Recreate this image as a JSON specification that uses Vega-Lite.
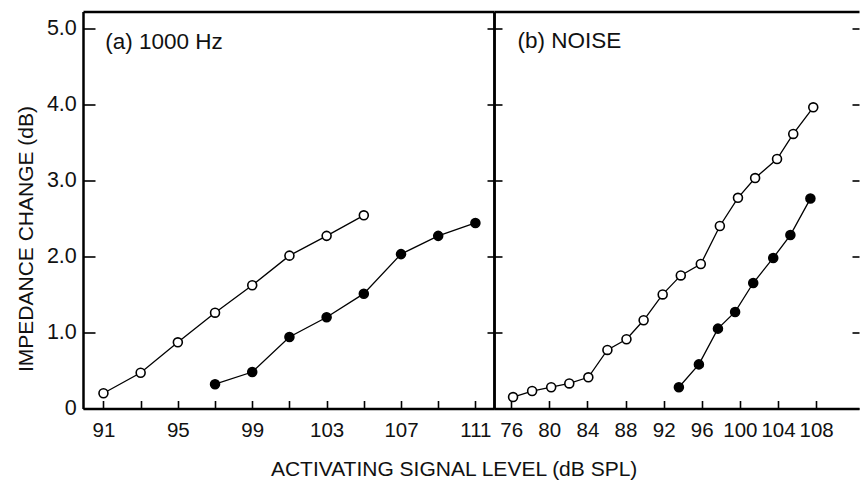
{
  "$schema": "https://vega.github.io/schema/vega-lite/v6.json",
  "background": "white",
  "padding": {"left": 15, "top": 11.5, "right": 0, "bottom": 0},
  "config": {
    "font": "Liberation Sans",
    "view": {"stroke": null},
    "title": {"font": "Liberation Sans", "fontSize": 22.5, "fontWeight": "normal", "color": "#111111", "anchor": "start", "frame": "group", "baseline": "alphabetic"},
    "axis": {
      "grid": false,
      "domainColor": "black",
      "domainWidth": 2.5,
      "tickColor": "black",
      "tickWidth": 1.6,
      "labelColor": "#111111",
      "titleColor": "#111111",
      "labelFont": "Liberation Sans",
      "titleFont": "Liberation Sans",
      "titleFontWeight": "normal"
    }
  },
  "datasets": {
    "impedance": [
      {"panel": "a", "series": "open", "level": 91, "change": 0.2},
      {"panel": "a", "series": "open", "level": 93, "change": 0.47},
      {"panel": "a", "series": "open", "level": 95, "change": 0.87},
      {"panel": "a", "series": "open", "level": 97, "change": 1.26},
      {"panel": "a", "series": "open", "level": 99, "change": 1.62},
      {"panel": "a", "series": "open", "level": 101, "change": 2.01},
      {"panel": "a", "series": "open", "level": 103, "change": 2.27},
      {"panel": "a", "series": "open", "level": 105, "change": 2.54},
      {"panel": "a", "series": "filled", "level": 97, "change": 0.32},
      {"panel": "a", "series": "filled", "level": 99, "change": 0.48},
      {"panel": "a", "series": "filled", "level": 101, "change": 0.94},
      {"panel": "a", "series": "filled", "level": 103, "change": 1.2},
      {"panel": "a", "series": "filled", "level": 105, "change": 1.51},
      {"panel": "a", "series": "filled", "level": 107, "change": 2.03},
      {"panel": "a", "series": "filled", "level": 109, "change": 2.27},
      {"panel": "a", "series": "filled", "level": 111, "change": 2.44},
      {"panel": "b", "series": "open", "level": 76.2, "change": 0.15},
      {"panel": "b", "series": "open", "level": 78.2, "change": 0.23},
      {"panel": "b", "series": "open", "level": 80.2, "change": 0.28},
      {"panel": "b", "series": "open", "level": 82.1, "change": 0.33},
      {"panel": "b", "series": "open", "level": 84.1, "change": 0.41},
      {"panel": "b", "series": "open", "level": 86.1, "change": 0.77},
      {"panel": "b", "series": "open", "level": 88.1, "change": 0.91},
      {"panel": "b", "series": "open", "level": 89.9, "change": 1.16},
      {"panel": "b", "series": "open", "level": 91.9, "change": 1.5},
      {"panel": "b", "series": "open", "level": 93.8, "change": 1.75},
      {"panel": "b", "series": "open", "level": 95.9, "change": 1.9},
      {"panel": "b", "series": "open", "level": 97.9, "change": 2.4},
      {"panel": "b", "series": "open", "level": 99.8, "change": 2.77},
      {"panel": "b", "series": "open", "level": 101.6, "change": 3.03},
      {"panel": "b", "series": "open", "level": 103.9, "change": 3.28},
      {"panel": "b", "series": "open", "level": 105.6, "change": 3.61},
      {"panel": "b", "series": "open", "level": 107.7, "change": 3.96},
      {"panel": "b", "series": "filled", "level": 93.6, "change": 0.28},
      {"panel": "b", "series": "filled", "level": 95.7, "change": 0.58},
      {"panel": "b", "series": "filled", "level": 97.7, "change": 1.05},
      {"panel": "b", "series": "filled", "level": 99.5, "change": 1.27},
      {"panel": "b", "series": "filled", "level": 101.4, "change": 1.65},
      {"panel": "b", "series": "filled", "level": 103.5, "change": 1.98},
      {"panel": "b", "series": "filled", "level": 105.3, "change": 2.28},
      {"panel": "b", "series": "filled", "level": 107.4, "change": 2.76}
    ]
  },
  "spacing": 0,
  "bounds": "flush",
  "hconcat": [
    {
      "width": 411,
      "height": 397,
      "title": {"text": "(a) 1000 Hz", "offset": -41.5, "dx": 22.3},
      "data": {"name": "impedance"},
      "transform": [{"filter": "datum.panel === 'a'"}],
      "layer": [
        {
          "mark": {"type": "line", "color": "black", "strokeWidth": 1.3},
          "encoding": {
            "x": {
              "field": "level", "type": "quantitative",
              "scale": {"domain": [89.9, 112], "nice": false, "zero": false},
              "axis": {
                "orient": "bottom",
                "values": [91, 93, 95, 97, 99, 101, 103, 105, 107, 109, 111],
                "labelExpr": "(datum.value - 91) % 4 === 0 ? datum.label : ''",
                "tickSize": -8, "labelPadding": 20, "labelFontSize": 20.5, "labelAngle": 0,
                "labelFlush": false,
                "title": "ACTIVATING SIGNAL LEVEL (dB SPL)",
                "titleFontSize": 21, "titleX": 370.6, "titleY": 66.5,
                "titleBaseline": "alphabetic", "titleAlign": "center"
              }
            },
            "y": {
              "field": "change", "type": "quantitative",
              "scale": {"domain": [0, 5.22], "nice": false},
              "axis": {
                "orient": "left",
                "values": [0, 1, 2, 3, 4, 5],
                "labelExpr": "datum.value === 0 ? '0' : format(datum.value, '.1f')",
                "tickSize": -12, "labelPadding": 18.7, "labelFontSize": 21.5,
                "labelFlush": false,
                "title": "IMPEDANCE CHANGE (dB)",
                "titleFontSize": 21, "titleX": -51, "titleY": 227, "titleAngle": -90,
                "titleBaseline": "alphabetic", "titleAlign": "center"
              }
            },
            "detail": {"field": "series"}
          }
        },
        {
          "transform": [{"filter": "datum.series === 'open'"}],
          "mark": {"type": "point", "filled": true, "fill": "white", "size": 80, "stroke": "black", "strokeWidth": 1.6, "opacity": 1},
          "encoding": {
            "x": {
              "field": "level", "type": "quantitative",
              "axis": {"orient": "top", "ticks": false, "labels": false, "title": null, "domain": true}
            },
            "y": {
              "field": "change", "type": "quantitative",
              "axis": {"orient": "right", "values": [0, 1, 2, 3, 4, 5], "labels": false, "tickSize": -7, "title": null, "domain": true}
            }
          }
        },
        {
          "transform": [{"filter": "datum.series === 'filled'"}],
          "mark": {"type": "point", "filled": true, "fill": "black", "size": 80, "stroke": "black", "strokeWidth": 1.6, "opacity": 1},
          "encoding": {
            "x": {"field": "level", "type": "quantitative", "axis": null},
            "y": {"field": "change", "type": "quantitative", "axis": null}
          }
        }
      ]
    },
    {
      "width": 365,
      "height": 397,
      "title": {"text": "(b) NOISE", "offset": -40.5, "dx": 23.6},
      "data": {"name": "impedance"},
      "transform": [{"filter": "datum.panel === 'b'"}],
      "layer": [
        {
          "mark": {"type": "line", "color": "black", "strokeWidth": 1.3},
          "encoding": {
            "x": {
              "field": "level", "type": "quantitative",
              "scale": {"domain": [74.2, 112.5], "nice": false, "zero": false},
              "axis": {
                "orient": "bottom",
                "values": [76, 80, 84, 88, 92, 96, 100, 104, 108],
                "tickSize": -8, "labelPadding": 20, "labelFontSize": 20.5, "labelAngle": 0,
                "labelFlush": false,
                "title": null
              }
            },
            "y": {
              "field": "change", "type": "quantitative",
              "scale": {"domain": [0, 5.22], "nice": false},
              "axis": {
                "orient": "left",
                "values": [0, 1, 2, 3, 4, 5],
                "labels": false, "tickSize": -8, "title": null
              }
            },
            "detail": {"field": "series"}
          }
        },
        {
          "transform": [{"filter": "datum.series === 'open'"}],
          "mark": {"type": "point", "filled": true, "fill": "white", "size": 80, "stroke": "black", "strokeWidth": 1.6, "opacity": 1},
          "encoding": {
            "x": {
              "field": "level", "type": "quantitative",
              "axis": {"orient": "top", "ticks": false, "labels": false, "title": null}
            },
            "y": {
              "field": "change", "type": "quantitative",
              "axis": {"orient": "right", "values": [0, 1, 2, 3, 4, 5], "labels": false, "tickSize": -7, "title": null, "domain": false}
            }
          }
        },
        {
          "transform": [{"filter": "datum.series === 'filled'"}],
          "mark": {"type": "point", "filled": true, "fill": "black", "size": 80, "stroke": "black", "strokeWidth": 1.6, "opacity": 1},
          "encoding": {
            "x": {"field": "level", "type": "quantitative", "axis": null},
            "y": {"field": "change", "type": "quantitative", "axis": null}
          }
        }
      ]
    }
  ]
}
